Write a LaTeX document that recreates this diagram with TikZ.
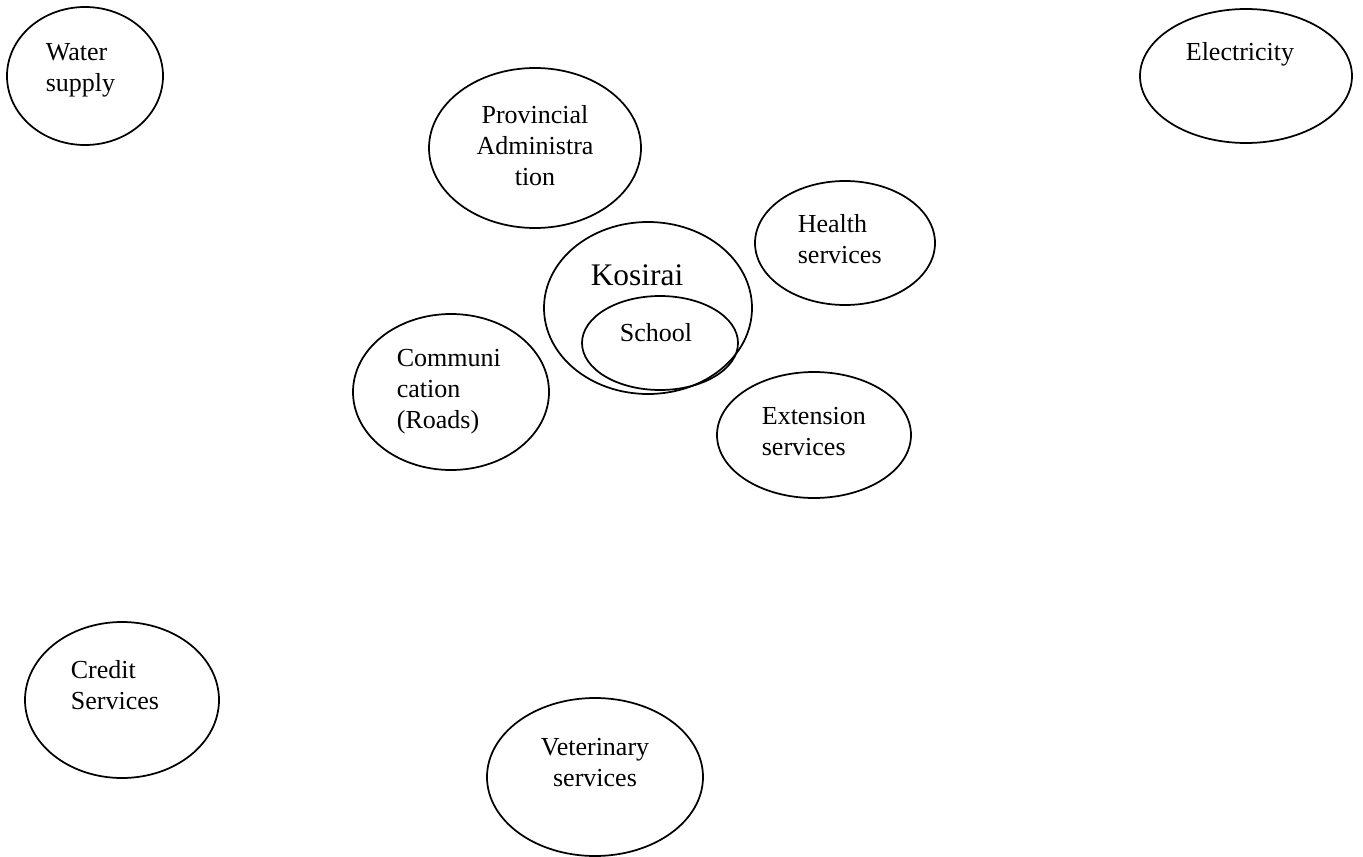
\documentclass[tikz,border=0pt]{standalone}
\usepackage{fontspec}
\setmainfont{Liberation Serif}
\usetikzlibrary{shapes}

\begin{document}
\begin{tikzpicture}[x=0.4615pt,y=-0.4615pt,line width=0.8pt]
  \tikzstyle{blob}=[ellipse,draw,inner sep=0pt]
  \tikzset{sz/.style 2 args={minimum width=#1*0.923pt,minimum height=#2*0.923pt}}
  \tikzstyle{lbl}=[inner sep=0pt,font=\fontsize{12}{14.3}\selectfont]
  \tikzstyle{lleft}=[lbl,anchor=west,align=left]
  \tikzstyle{lmid}=[lbl,align=center]

  \useasboundingbox (0,0) rectangle (1363,857);

  \node[blob,sz={78}{69}] (water) at (85,76) {};
  \node[blob,sz={106}{67}] (elec) at (1246,76) {};
  \node[blob,sz={106}{80}] (prov) at (535,148) {};
  \node[blob,sz={90}{62}] (health) at (845,243) {};
  \node[blob,sz={104}{86}] (kosirai) at (648,308) {};
  \node[blob,sz={78}{47}] (school) at (660,343) {};
  \node[blob,sz={98}{78}] (comm) at (451,392) {};
  \node[blob,sz={97}{63}] (ext) at (814,435) {};
  \node[blob,sz={97}{78}] (credit) at (122,700) {};
  \node[blob,sz={108}{79}] (vet) at (595,777) {};

  \node[lleft] (water-t) at (45,70) {Water\\supply};
  \node[lleft] (elec-t) at (1185,54) {Electricity};
  \node[lmid] (prov-t) at (535,146) {Provincial\\Administra\\tion};
  \node[lleft] (health-t) at (797,239) {Health\\services};
  \node[lbl,font=\fontsize{14.5}{17}\selectfont] (kosirai-t) at (637,275) {Kosirai};
  \node[lbl] (school-t) at (656,333) {School};
  \node[lleft] (comm-t) at (396,392) {Communi\\cation\\(Roads)};
  \node[lleft] (ext-t) at (761,432) {Extension\\services};
  \node[lleft] (credit-t) at (70,685) {Credit\\Services};
  \node[lmid] (vet-t) at (595,763) {Veterinary\\services};
\end{tikzpicture}
\end{document}
